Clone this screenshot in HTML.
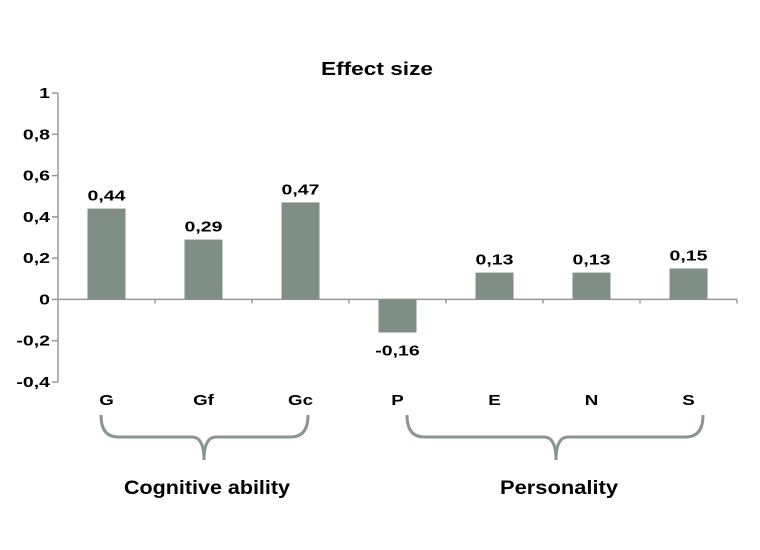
<!DOCTYPE html>
<html><head><meta charset="utf-8"><style>
body{margin:0;background:#fff;}
svg{display:block;font-family:"Liberation Sans",Arial,sans-serif;font-weight:bold;}
</style></head><body>
<svg id="chart" width="760" height="550">
<text x="377" y="75" text-anchor="middle" font-size="18" fill="#000" textLength="112" lengthAdjust="spacingAndGlyphs">Effect size</text>
<g id="axes"></g><g id="bars"></g>
<path d="M101,415 Q101,437 118,437 L192,437 Q204,437 204,460 Q204,437 216,437 L291,437 Q308,437 308,415" fill="none" stroke="#8a9690" stroke-width="3"/>
<path d="M407,415 Q407,437 424,437 L544,437 Q556,437 556,460 Q556,437 568,437 L686,437 Q703,437 703,415" fill="none" stroke="#8a9690" stroke-width="3"/>
<text x="207" y="494" text-anchor="middle" font-size="19" textLength="166" lengthAdjust="spacingAndGlyphs">Cognitive ability</text>
<text x="559" y="494" text-anchor="middle" font-size="19" textLength="118" lengthAdjust="spacingAndGlyphs">Personality</text>
</svg>
<script>
const categories=["G","Gf","Gc","P","E","N","S"];
const values=[0.44,0.29,0.47,-0.16,0.13,0.13,0.15];
const valueLabels=["0,44","0,29","0,47","-0,16","0,13","0,13","0,15"];
const tickValues=[1,0.8,0.6,0.4,0.2,0,-0.2,-0.4];
const tickLabels=["1","0,8","0,6","0,4","0,2","0","-0,2","-0,4"];
const NS="http://www.w3.org/2000/svg";
const x0=58,x1=737,yTop=93,yBot=382,vMax=1,vMin=-0.4;
const bw=(x1-x0)/categories.length;
function y(v){return yTop+(vMax-v)/(vMax-vMin)*(yBot-yTop);}
function xc(i){return x0+bw*(i+0.5);}
function mk(t,a,p){const e=document.createElementNS(NS,t);for(const k in a)e.setAttribute(k,a[k]);p.appendChild(e);return e;}
function stretch(t,f){const w=t.getComputedTextLength();t.setAttribute('textLength',w*f);t.setAttribute('lengthAdjust','spacingAndGlyphs');}
const ax=document.getElementById('axes'),bars=document.getElementById('bars');
const ya=mk('line',{x1:x0,x2:x0,y1:yTop,y2:yBot,stroke:'#999','stroke-width':1.5},ax);


tickValues.forEach((v,i)=>{
 mk('line',{x1:x0-6,x2:x0,y1:y(v),y2:y(v),stroke:'#999','stroke-width':1.5},ax);
 const t=mk('text',{x:x0-8,y:y(v)+5,'text-anchor':'end','font-size':15},ax);
 t.textContent=tickLabels[i];
 
 
 stretch(t,1.3);
});
const xa=mk('line',{x1:x0,x2:x1,y1:y(0),y2:y(0),stroke:'#999','stroke-width':1.5},ax);


for(let i=1;i<=categories.length;i++){mk('line',{x1:x0+bw*i,x2:x0+bw*i,y1:y(0),y2:y(0)+4,stroke:'#999','stroke-width':1.5},ax);}
categories.forEach((c,i)=>{
 const v=values[i],cx=xc(i);
 const r=mk('rect',{x:cx-19,width:38,y:Math.min(y(v),y(0)),height:Math.abs(y(v)-y(0)),fill:'#7f8f86'},bars);
 
 
 const l=mk('text',{x:cx,y:v>=0?y(v)-8:y(v)+23,'text-anchor':'middle','font-size':15},bars);
 l.textContent=valueLabels[i];
 
 
 stretch(l,1.3);
 const cl=mk('text',{x:cx,y:405,'text-anchor':'middle','font-size':15},bars);
 cl.textContent=c;
 
 
 stretch(cl,1.25);
});
</script>
</body></html>
